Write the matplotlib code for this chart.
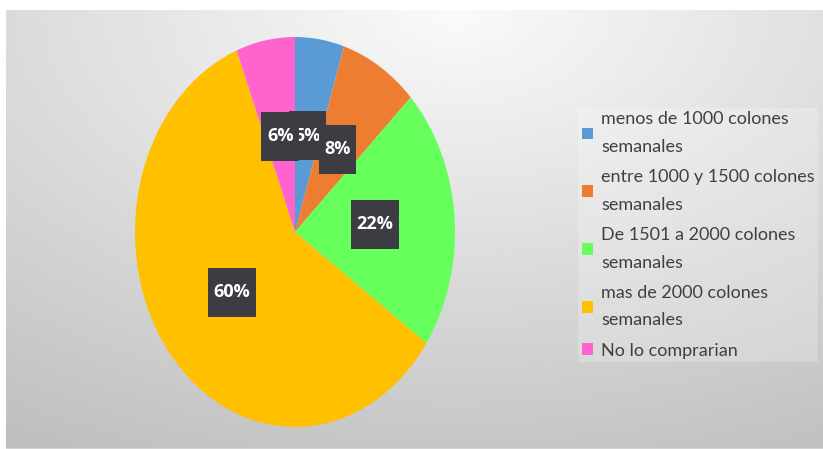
import numpy as np
import matplotlib.pyplot as plt
from matplotlib.path import Path

# respuestas por rango de gasto semanal
categorias = ["menos de 1000 colones\nsemanales",
              "entre 1000 y 1500 colones\nsemanales",
              "De 1501 a 2000 colones\nsemanales",
              "mas de 2000 colones\nsemanales",
              "No lo comprarian"]
porcentajes = [5, 8, 22, 60, 6]
colores = ["#5B9BD5", "#ED7D31", "#66FF5C", "#FFC000", "#FF63CE"]

plt.rcParams['font.family'] = ['Lato', 'DejaVu Sans']


def caja(x0, y0, width, height, mutation_size):
    # recuadro con mas relleno vertical que horizontal
    px, py = 0.3 * mutation_size, 0.85 * mutation_size
    x0, y0 = x0 - px, y0 - py
    x1, y1 = x0 + width + 2 * px, y0 + height + 2 * py
    return Path([(x0, y0), (x1, y0), (x1, y1), (x0, y1), (x0, y0)],
                closed=True)


fig = plt.figure(figsize=(8.23, 4.49), dpi=100)
fig.patch.set_facecolor("white")

# fondo gris con degradado
bg = fig.add_axes([6 / 823, 0, 1 - 6 / 823, 1 - 10 / 449])
u, v = np.meshgrid(np.linspace(0, 1, 400), np.linspace(0, 1, 220))
d = np.sqrt(((u - 0.55) * 1.1) ** 2 + v ** 2)
fondo = np.clip(250 - 52 * d, 0, 255) / 255
bg.imshow(fondo, cmap="gray", vmin=0, vmax=1, aspect="auto",
          extent=[0, 1, 1, 0], interpolation="bilinear")
bg.axhline(1, color="#d8d8d8", lw=1.2)
bg.set_xlim(0, 1)
bg.set_ylim(1, 0)
bg.axis("off")

# torta (eliptica)
ax = fig.add_axes([135 / 823, 22 / 449, 320 / 823, 390 / 449])
etiquetas = [f"{p}%" for p in porcentajes]
wedges, textos = ax.pie(porcentajes, colors=colores, startangle=90,
                        counterclock=False, labels=etiquetas,
                        labeldistance=0.5,
                        wedgeprops=dict(linewidth=0),
                        textprops=dict(color="white", fontsize=13,
                                       fontweight="bold",
                                       family=["Open Sans", "DejaVu Sans"]))
for t in textos:
    t.set_ha("center")
    t.set_va("center")
    t.set_bbox(dict(boxstyle=caja, facecolor="#3c3c42", edgecolor="none"))
ax.set_aspect("auto")
ax.set_xlim(-1, 1)
ax.set_ylim(-1, 1)

leg = fig.legend(wedges, categorias, loc="center left",
                 bbox_to_anchor=(578 / 823, 1 - 235 / 449),
                 fontsize=13, frameon=True, fancybox=False,
                 handlelength=0.62, handleheight=0.62, handletextpad=0.45,
                 labelspacing=0.78, borderpad=0.2, borderaxespad=0)
leg.get_frame().set_facecolor("white")
leg.get_frame().set_alpha(0.22)
leg.get_frame().set_edgecolor("none")
for t in leg.get_texts():
    t.set_color("#404040")
    t.set_linespacing(1.9)

fig.savefig("out.png", dpi=100)
